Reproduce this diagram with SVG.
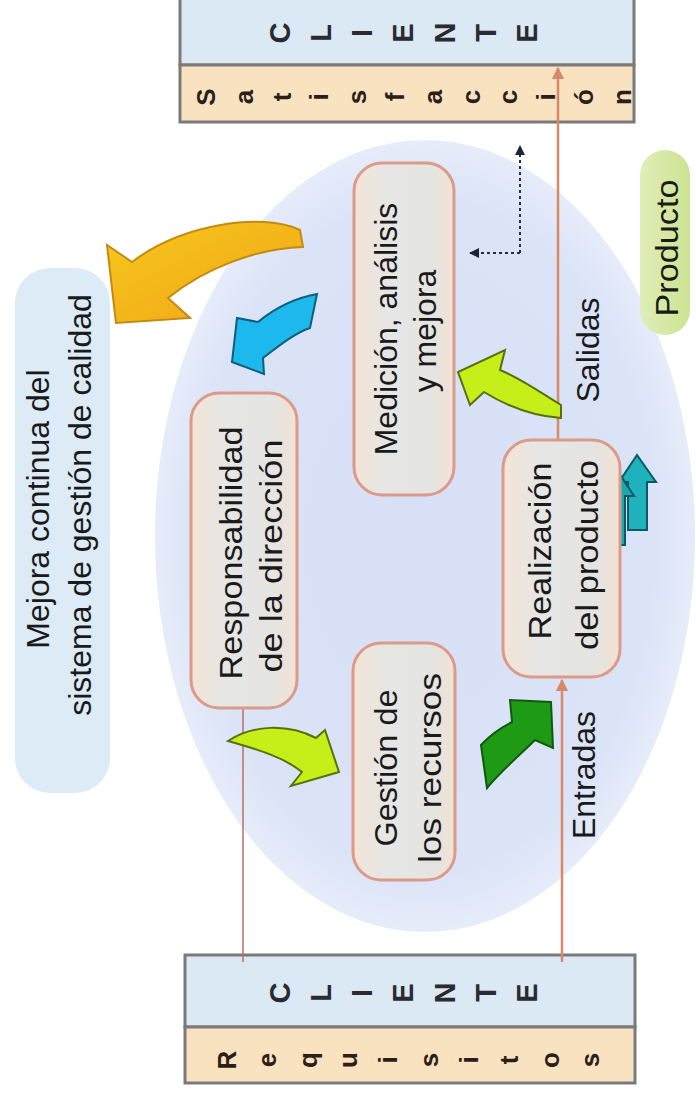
<svg xmlns="http://www.w3.org/2000/svg" width="696" height="1099" viewBox="0 0 696 1099">
<style>
.node rect{stroke:#dc9a88;stroke-width:3;fill:url(#nodeFill)}
.t{font-family:"Liberation Sans",Arial,sans-serif;font-size:32px;fill:#1a1a1a;text-anchor:middle;dominant-baseline:central}
.big{font-family:"Liberation Sans",Arial,sans-serif;font-size:29px;font-weight:bold;fill:#2a2a30;text-anchor:middle;dominant-baseline:central}
.sm{font-family:"Liberation Sans",Arial,sans-serif;font-size:26px;font-weight:bold;fill:#2a2018;text-anchor:middle;dominant-baseline:central}
.box{stroke:#7a7a7a;stroke-width:3}
.orange{stroke:#d8896a;stroke-width:2.5;fill:none}
.dot{stroke:#223044;stroke-width:2;stroke-dasharray:3 3;fill:none}
</style>
<defs>
<radialGradient id="ell" cx="0.5" cy="0.5" r="0.5">
<stop offset="0" stop-color="#d7e0f6"/>
<stop offset="0.85" stop-color="#dbe3f7"/>
<stop offset="1" stop-color="#e6ecf9"/>
</radialGradient>
<linearGradient id="nodeFill" x1="0" y1="0" x2="1" y2="0">
<stop offset="0" stop-color="#f4e4d6"/>
<stop offset="0.3" stop-color="#e6e6e4"/>
<stop offset="0.75" stop-color="#e4e4e2"/>
<stop offset="1" stop-color="#f2e2d4"/>
</linearGradient>
<linearGradient id="yel" x1="0" y1="0" x2="1" y2="1">
<stop offset="0" stop-color="#f7c81c"/>
<stop offset="1" stop-color="#f0a418"/>
</linearGradient>
<linearGradient id="prod" x1="0" y1="0" x2="1" y2="0">
<stop offset="0" stop-color="#dfeeb8"/>
<stop offset="1" stop-color="#cde392"/>
</linearGradient>
<marker id="ao" viewBox="0 0 10 10" refX="9" refY="5" markerWidth="5" markerHeight="5" orient="auto">
<path d="M0,0 L10,5 L0,10 Z" fill="#d8896a"/>
</marker>
<marker id="ad" viewBox="0 0 10 10" refX="9" refY="5" markerWidth="5" markerHeight="5" orient="auto">
<path d="M0,0 L10,5 L0,10 Z" fill="#1c2436"/>
</marker>
</defs>

<ellipse id="ellipse" cx="425" cy="536" rx="270" ry="396" fill="url(#ell)"/>

<g id="mejora-label">
<rect x="15" y="268" width="95" height="525" rx="35" fill="#dcebf6"/>
<text class="t" font-size="31" transform="translate(38,509) rotate(-90)">Mejora continua del</text>
<text class="t" font-size="31" transform="translate(80,505) rotate(-90)">sistema de gestión de calidad</text>
</g>

<g id="cliente-top">
<rect class="box" x="180" y="-3" width="454" height="68" fill="#dbe9f5"/>
<rect class="box" x="180" y="65" width="454" height="57" fill="#f9e2c0"/>
<text class="big" transform="translate(280,33) rotate(-90)">C</text>
<text class="big" transform="translate(321,33) rotate(-90)">L</text>
<text class="big" transform="translate(362,33) rotate(-90)">I</text>
<text class="big" transform="translate(403,33) rotate(-90)">E</text>
<text class="big" transform="translate(445,33) rotate(-90)">N</text>
<text class="big" transform="translate(486,33) rotate(-90)">T</text>
<text class="big" transform="translate(527,33) rotate(-90)">E</text>
<text class="sm" transform="translate(206,97) rotate(-90)">S</text>
<text class="sm" transform="translate(244,97) rotate(-90)">a</text>
<text class="sm" transform="translate(282,97) rotate(-90)">t</text>
<text class="sm" transform="translate(319,97) rotate(-90)">i</text>
<text class="sm" transform="translate(357,97) rotate(-90)">s</text>
<text class="sm" transform="translate(395,97) rotate(-90)">f</text>
<text class="sm" transform="translate(433,97) rotate(-90)">a</text>
<text class="sm" transform="translate(471,97) rotate(-90)">c</text>
<text class="sm" transform="translate(508,97) rotate(-90)">c</text>
<text class="sm" transform="translate(546,97) rotate(-90)">i</text>
<text class="sm" transform="translate(584,97) rotate(-90)">ó</text>
<text class="sm" transform="translate(622,97) rotate(-90)">n</text>
</g>

<g id="cliente-bottom">
<rect class="box" x="185" y="955" width="450" height="72" fill="#dbe9f5"/>
<rect class="box" x="185" y="1027" width="450" height="56" fill="#f9e2c0"/>
<text class="big" transform="translate(280,993) rotate(-90)">C</text>
<text class="big" transform="translate(321,993) rotate(-90)">L</text>
<text class="big" transform="translate(362,993) rotate(-90)">I</text>
<text class="big" transform="translate(403,993) rotate(-90)">E</text>
<text class="big" transform="translate(445,993) rotate(-90)">N</text>
<text class="big" transform="translate(486,993) rotate(-90)">T</text>
<text class="big" transform="translate(527,993) rotate(-90)">E</text>
<text class="sm" transform="translate(227,1060) rotate(-90)">R</text>
<text class="sm" transform="translate(267,1060) rotate(-90)">e</text>
<text class="sm" transform="translate(308,1060) rotate(-90)">q</text>
<text class="sm" transform="translate(348,1060) rotate(-90)">u</text>
<text class="sm" transform="translate(388,1060) rotate(-90)">i</text>
<text class="sm" transform="translate(429,1060) rotate(-90)">s</text>
<text class="sm" transform="translate(469,1060) rotate(-90)">i</text>
<text class="sm" transform="translate(509,1060) rotate(-90)">t</text>
<text class="sm" transform="translate(550,1060) rotate(-90)">o</text>
<text class="sm" transform="translate(590,1060) rotate(-90)">s</text>
</g>

<g id="connectors">
<line x1="243" y1="962" x2="243" y2="708" stroke="#b87060" stroke-width="1.5"/>
<line class="orange" x1="562" y1="962" x2="562" y2="680" marker-end="url(#ao)"/>
<line class="orange" x1="558" y1="440" x2="558" y2="68" marker-end="url(#ao)"/>
<polyline class="dot" points="520,253 520,146" marker-end="url(#ad)"/>
<polyline class="dot" points="520,253 470,253" marker-end="url(#ad)"/>
<path d="M300,230 C262,212 182,224 132,262 L107,245 L116,323 L190,318 L168,298 C205,268 258,248 303,247 Z" fill="url(#yel)" stroke="#c48a10" stroke-width="2"/>
<path d="M317,294 L310,328 C295,333 280,345 263,358 L264,374 L232,362 L237,318 L258,322 C275,308 295,298 317,294 Z" fill="#1cb8ee" stroke="#105f78" stroke-width="2"/>
<path d="M228,741 C252,725 287,723 316,738 L325,730 L339,772 L291,786 L302,772 C285,758 260,750 228,741 Z" fill="#c6ef1a" stroke="#5a7010" stroke-width="2"/>
<path d="M481,745 C490,735 500,728 512,722 L510,700 L551,702 L553,748 L535,740 C520,755 502,770 487,788 Z" fill="#1f9a14" stroke="#0f5a0c" stroke-width="2"/>
<path d="M561,405 C540,392 520,378 500,370 L505,350 L458,372 L470,405 L484,392 C505,405 530,416 561,418 Z" fill="#c6ef1a" stroke="#5a7010" stroke-width="2"/>
<path d="M637,455 L656,482 L647,482 L647,530 L628,530 L628,482 L619,482 Z" fill="#20b2bc" stroke="#0a5a66" stroke-width="2"/>
<path d="M617,470 L634,496 L625,496 L625,545 L607,545 L607,496 L598,496 Z" fill="#1aa8b4" stroke="#0a5a66" stroke-width="2"/>
</g>

<g id="responsabilidad" class="node">
<rect x="191" y="393" width="106" height="315" rx="28"/>
<text class="t" transform="translate(231,553) rotate(-90)" textLength="253" lengthAdjust="spacingAndGlyphs">Responsabilidad</text>
<text class="t" transform="translate(271,556) rotate(-90)" textLength="233" lengthAdjust="spacingAndGlyphs">de la dirección</text>
</g>

<g id="medicion" class="node">
<rect x="354" y="163" width="100" height="332" rx="28"/>
<text class="t" transform="translate(386,329) rotate(-90)">Medición, análisis</text>
<text class="t" transform="translate(425,331) rotate(-90)">y mejora</text>
</g>

<g id="gestion" class="node">
<rect x="353" y="643" width="102" height="237" rx="28"/>
<text class="t" transform="translate(386,768) rotate(-90)" textLength="157" lengthAdjust="spacingAndGlyphs">Gestión de</text>
<text class="t" transform="translate(430,768) rotate(-90)" textLength="190" lengthAdjust="spacingAndGlyphs">los recursos</text>
</g>

<g id="realizacion" class="node">
<rect x="503" y="440" width="117" height="237" rx="28"/>
<text class="t" transform="translate(540,551) rotate(-90)" textLength="177" lengthAdjust="spacingAndGlyphs">Realización</text>
<text class="t" transform="translate(587,555) rotate(-90)" textLength="190" lengthAdjust="spacingAndGlyphs">del producto</text>
</g>

<g id="salidas">
<text class="t" transform="translate(588,350) rotate(-90)">Salidas</text>
</g>
<g id="entradas">
<text class="t" transform="translate(584,775) rotate(-90)">Entradas</text>
</g>

<g id="producto">
<rect x="640" y="150" width="50" height="185" rx="25" fill="url(#prod)"/>
<text class="t" font-size="30" transform="translate(667,248) rotate(-90)" textLength="137" lengthAdjust="spacingAndGlyphs">Producto</text>
</g>
</svg>
